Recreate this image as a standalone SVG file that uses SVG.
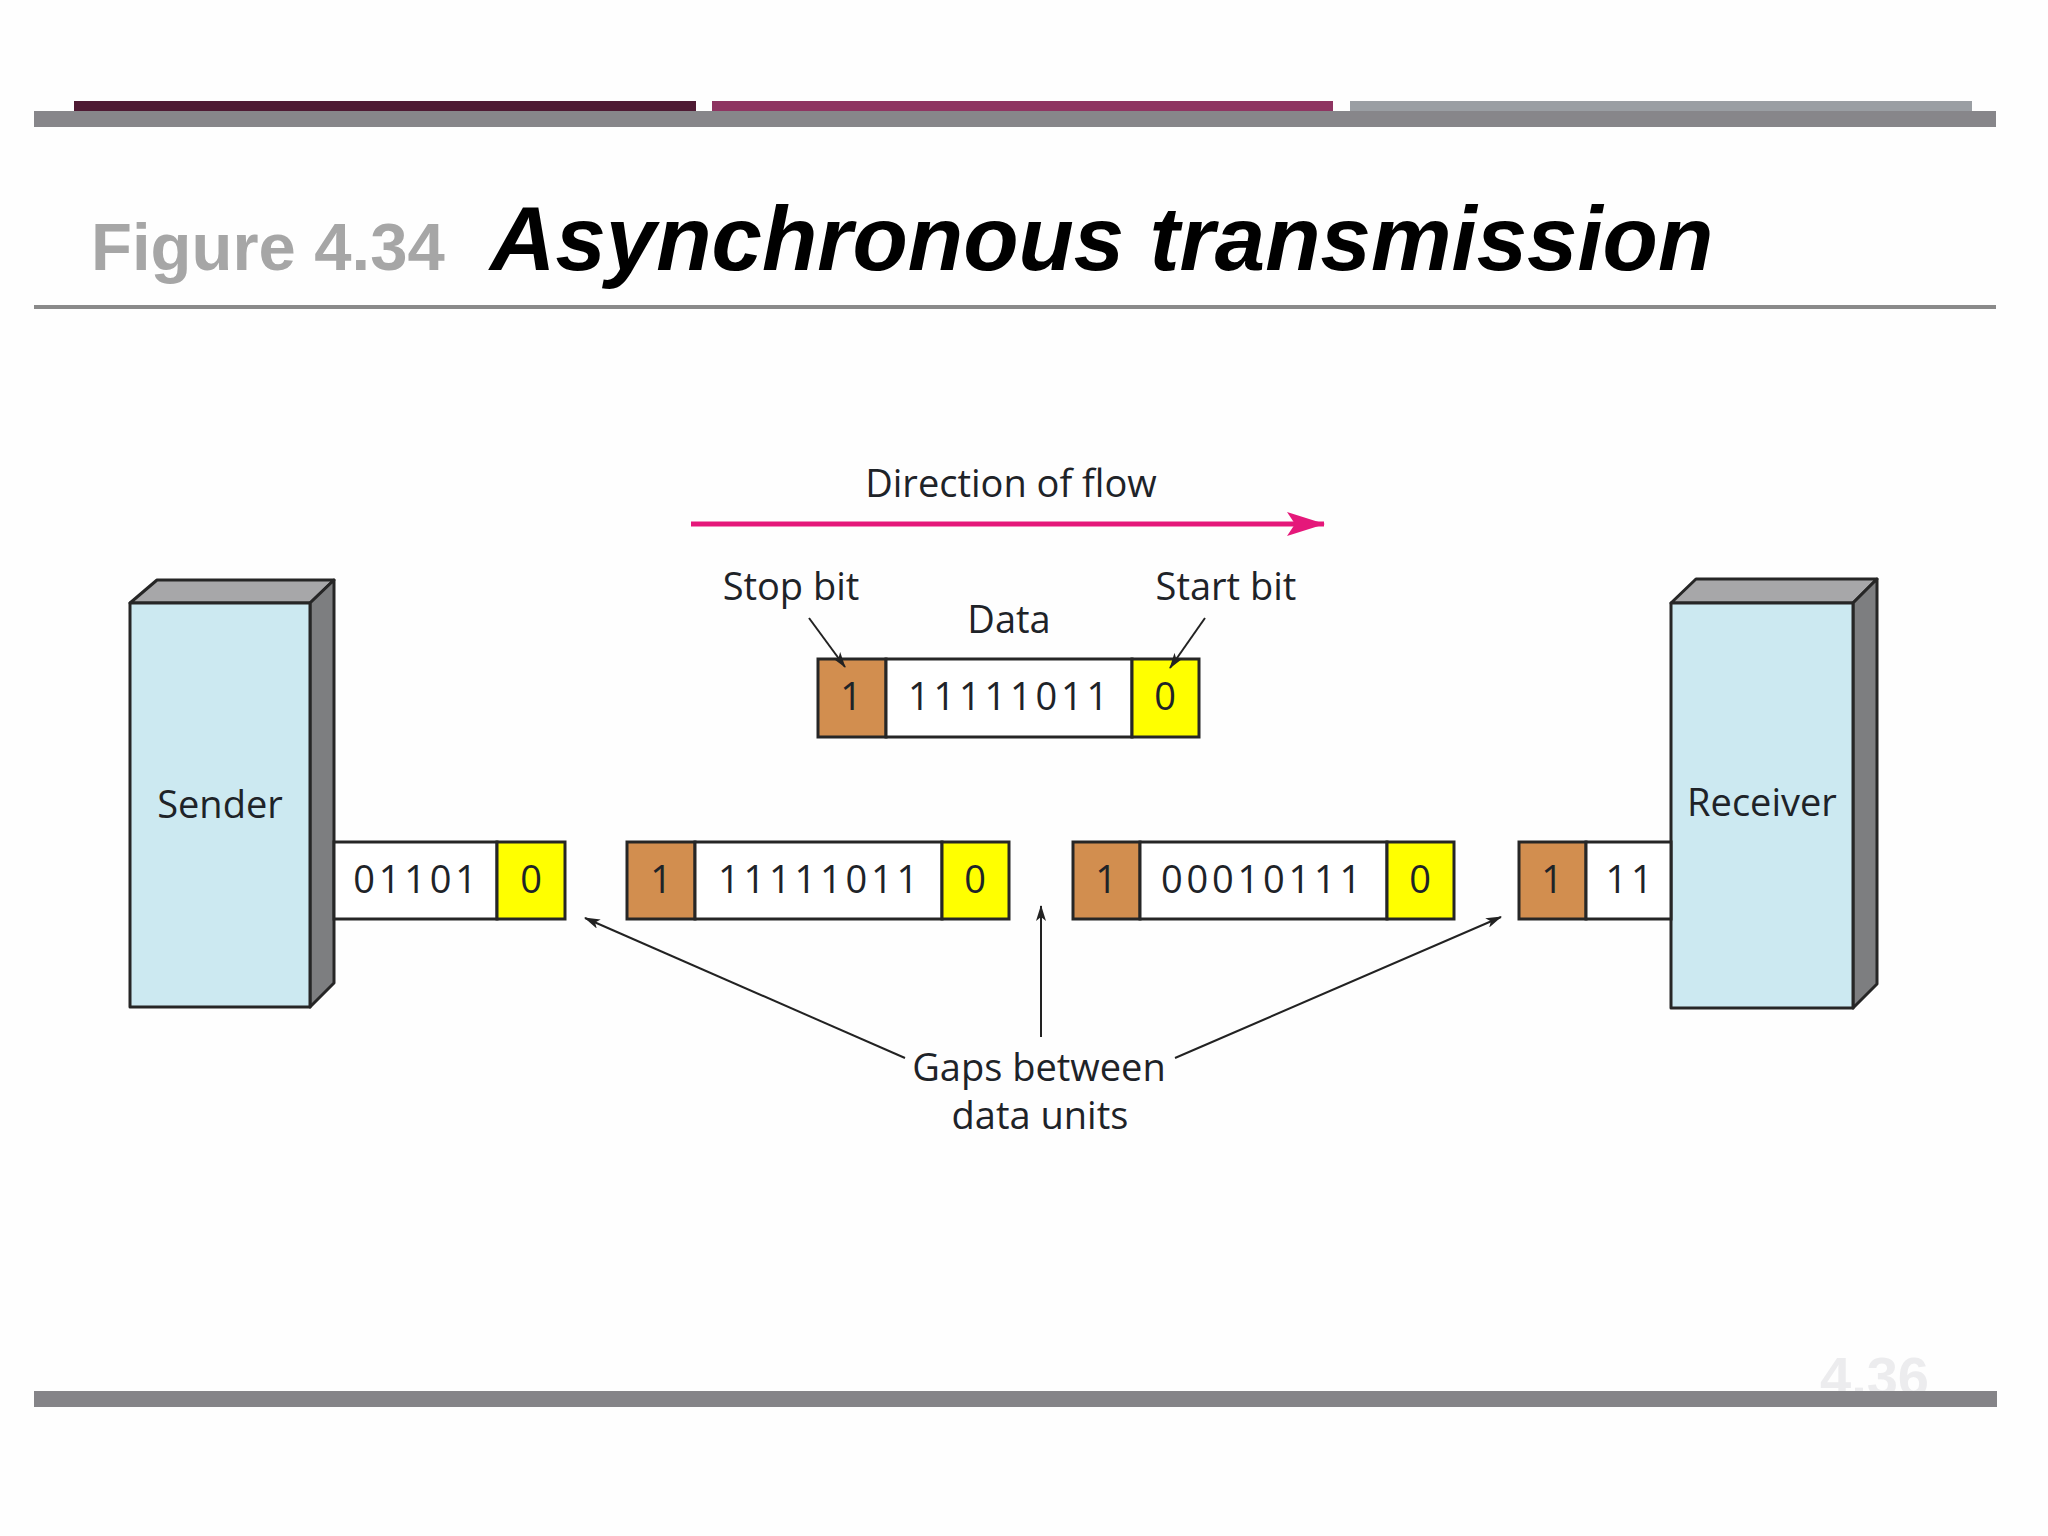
<svg xmlns="http://www.w3.org/2000/svg" width="2048" height="1536" viewBox="0 0 2048 1536">
<defs>
<style>
.lbl{font-family:"Open Sans","Liberation Sans",sans-serif;font-size:38px;fill:#1e2328;text-anchor:middle}
.dig{font-family:"Open Sans","Liberation Sans",sans-serif;font-size:38px;fill:#1e2328;text-anchor:middle;letter-spacing:3.8px}
.cell{stroke:#262626;stroke-width:3}
.w{fill:#ffffff}
.b{fill:#d28e4f}
.y{fill:#ffff00}
.front{fill:#cce9f1;stroke:#262626;stroke-width:3;stroke-linejoin:round}
.top{fill:#a7a7a9;stroke:#262626;stroke-width:3;stroke-linejoin:round}
.side{fill:#7d7e80;stroke:#262626;stroke-width:3;stroke-linejoin:round}
.conn{stroke:#222;stroke-width:2;fill:none}
</style>
<marker id="ah" viewBox="0 0 16 10" refX="15" refY="5" markerWidth="16" markerHeight="10" markerUnits="userSpaceOnUse" orient="auto">
<path d="M0,0 L16,5 L0,10 L4,5 Z" fill="#222"/>
</marker>
<marker id="ahp" viewBox="0 0 38 24" refX="37" refY="12" markerWidth="38" markerHeight="24" markerUnits="userSpaceOnUse" orient="auto">
<path d="M0,0 L38,12 L0,24 L8,12 Z" fill="#e5187a"/>
</marker>
</defs>
<rect width="2048" height="1536" fill="#fefefe"/>
<g id="header">
<rect x="74" y="101" width="622" height="10" fill="#4e1a33"/>
<rect x="712" y="101" width="621" height="10" fill="#8e3461"/>
<rect x="1350" y="101" width="622" height="10" fill="#9a9ea3"/>
<rect x="34" y="111" width="1962" height="16" fill="#87868a"/>
<text x="91" y="270" font-family="Liberation Sans, Arial, sans-serif" font-weight="bold" font-size="67" fill="#a6a6a6">Figure 4.34</text>
<text x="490" y="270" font-family="Liberation Sans, Arial, sans-serif" font-weight="bold" font-style="italic" font-size="90.6" fill="#000">Asynchronous transmission</text>
<rect x="34" y="305" width="1962" height="4" fill="#8a8a8a"/>
</g>
<g id="footer">
<text x="1820" y="1396" font-family="Liberation Sans, Arial, sans-serif" font-weight="bold" font-size="56" fill="#ececee">4.36</text>
<rect x="34" y="1391" width="1963" height="16" fill="#858488"/>
</g>
<g id="sender">
<polygon class="top" points="130,603 157,580 334,580 310,603"/>
<polygon class="side" points="310,603 334,580 334,983 310,1007"/>
<rect class="front" x="130" y="603" width="180" height="404"/>
<text class="lbl" x="220" y="818">Sender</text>
</g>
<g id="receiver">
<polygon class="top" points="1671,603 1696,579 1877,579 1853,603"/>
<polygon class="side" points="1853,603 1877,579 1877,984 1853,1008"/>
<rect class="front" x="1671" y="603" width="182" height="405"/>
<text class="lbl" x="1762" y="816">Receiver</text>
</g>
<g id="frame-sample">
<rect class="cell b" x="818" y="659" width="68" height="78"/>
<rect class="cell w" x="886" y="659" width="246" height="78"/>
<rect class="cell y" x="1132" y="659" width="67" height="78"/>
<text class="dig" x="853" y="710">1</text>
<text class="dig" x="1010" y="710">11111011</text>
<text class="dig" x="1167" y="710">0</text>
<text class="lbl" x="791" y="600">Stop bit</text>
<text class="lbl" x="1226" y="600">Start bit</text>
<text class="lbl" x="1009" y="633">Data</text>
</g>
<g id="frame-1">
<rect class="cell w" x="334" y="842" width="163" height="77"/>
<rect class="cell y" x="497" y="842" width="68" height="77"/>
<text class="dig" x="417" y="893">01101</text>
<text class="dig" x="533" y="893">0</text>
</g>
<g id="frame-2">
<rect class="cell b" x="627" y="842" width="68" height="77"/>
<rect class="cell w" x="695" y="842" width="247" height="77"/>
<rect class="cell y" x="942" y="842" width="67" height="77"/>
<text class="dig" x="663" y="893">1</text>
<text class="dig" x="820" y="893">11111011</text>
<text class="dig" x="977" y="893">0</text>
</g>
<g id="frame-3">
<rect class="cell b" x="1073" y="842" width="67" height="77"/>
<rect class="cell w" x="1140" y="842" width="247" height="77"/>
<rect class="cell y" x="1387" y="842" width="67" height="77"/>
<text class="dig" x="1108" y="893">1</text>
<text class="dig" x="1263" y="893">00010111</text>
<text class="dig" x="1422" y="893">0</text>
</g>
<g id="frame-4">
<rect class="cell b" x="1519" y="842" width="67" height="77"/>
<rect class="cell w" x="1586" y="842" width="85" height="77"/>
<text class="dig" x="1554" y="893">1</text>
<text class="dig" x="1631" y="893">11</text>
</g>
<g id="gaps-label">
<text class="lbl" x="1039" y="1081"><tspan x="1039" y="1081">Gaps between</tspan><tspan x="1040" y="1129">data units</tspan></text>
</g>
<g id="direction-label">
<text class="lbl" x="1011" y="497">Direction of flow</text>
</g>
<g id="connectors">
<line x1="691" y1="524" x2="1324" y2="524" stroke="#e5187a" stroke-width="5" marker-end="url(#ahp)"/>
<line class="conn" x1="809" y1="618" x2="845" y2="667" marker-end="url(#ah)"/>
<line class="conn" x1="1205" y1="618" x2="1170" y2="668" marker-end="url(#ah)"/>
<line class="conn" x1="905" y1="1058" x2="585" y2="918" marker-end="url(#ah)"/>
<line class="conn" x1="1041" y1="1037" x2="1041" y2="906" marker-end="url(#ah)"/>
<line class="conn" x1="1175" y1="1058" x2="1501" y2="917" marker-end="url(#ah)"/>
</g>
</svg>
